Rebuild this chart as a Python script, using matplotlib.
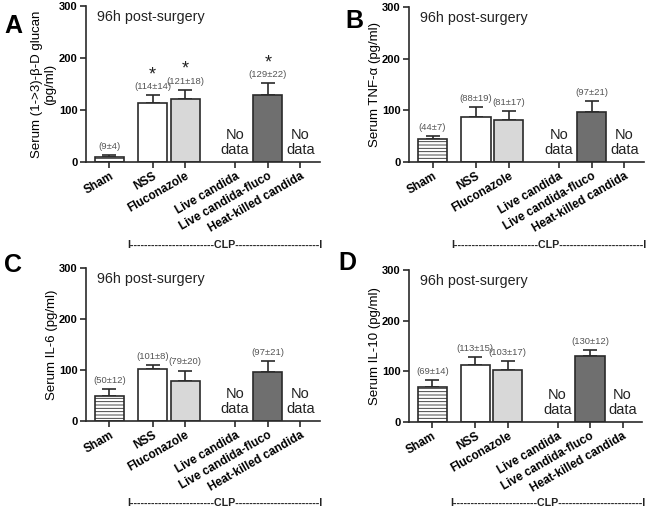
import matplotlib
matplotlib.use("Agg")
import matplotlib.pyplot as plt

plt.rcParams["font.family"] = ["Liberation Sans", "DejaVu Sans"]
plt.rcParams["hatch.linewidth"] = 0.6

# groups and data (mean, sem); None = no data
groups = ["Sham", "NSS", "Fluconazole", "Live candida", "Live candida-fluco", "Heat-killed candida"]
positions = [0, 1.32, 2.32, 3.85, 4.85, 5.85]

glucan_mean = [9, 114, 121, None, 129, None]
glucan_err = [4, 14, 18, None, 22, None]
glucan_star = [False, True, True, False, True, False]

tnf_mean = [44, 88, 81, None, 97, None]
tnf_err = [7, 19, 17, None, 21, None]

il6_mean = [50, 101, 79, None, 97, None]
il6_err = [12, 8, 20, None, 21, None]

il10_mean = [69, 113, 103, None, 130, None]
il10_err = [14, 15, 17, None, 12, None]

no_star = [False] * 6

face = ["white", "white", "#d8d8d8", None, "#6f6f6f", None]
hatch = ["-----", None, None, None, None, None]
edge = "#2a2a2a"

fig = plt.figure(figsize=(6.48, 5.11), dpi=100)

W, H = 648, 511


def make_ax(left, top, right, bottom):
    return fig.add_axes([left / W, 1 - bottom / H, (right - left) / W, (bottom - top) / H])


panels = [
    ("A", make_ax(86, 6, 320, 162), glucan_mean, glucan_err, glucan_star,
     "Serum (1->3)-\u03b2-D glucan\n(pg/ml)", -0.128, (4, 33)),
    ("B", make_ax(409, 7, 644, 162), tnf_mean, tnf_err, no_star,
     "Serum TNF-\u03b1 (pg/ml)", -0.118, (345, 28)),
    ("C", make_ax(86, 268, 320, 421), il6_mean, il6_err, no_star,
     "Serum IL-6 (pg/ml)", -0.118, (4, 272)),
    ("D", make_ax(409, 270, 642, 422), il10_mean, il10_err, no_star,
     "Serum IL-10 (pg/ml)", -0.12, (338, 270)),
]

for letter, ax, means, errs, stars, ylab, lx, lpos in panels:
    for i, (x, m, e) in enumerate(zip(positions, means, errs)):
        if m is None:
            ax.text(x, 38, "No\ndata", ha="center", va="center", fontsize=10.5,
                    linespacing=1.05, color="#222222")
            continue
        ax.bar(x, m, width=0.9, color=face[i], edgecolor=edge, linewidth=1.2,
               hatch=hatch[i], zorder=2)
        ax.errorbar(x, m, yerr=[[0], [e]], fmt="none", ecolor=edge,
                    elinewidth=1.2, capsize=5, capthick=1.2, zorder=1)
        top = m + e
        ax.text(x, top + 8, "(%d\u00b1%d)" % (m, e), ha="center", va="bottom",
                fontsize=6.8, color="#555555")
        if stars[i]:
            ax.text(x, top + 23, "*", ha="center", va="bottom", fontsize=13,
                    color="#222222")

    ax.set_xlim(-0.72, 6.45)
    ax.set_ylim(0, 300)
    ax.set_yticks([0, 100, 200, 300])
    ax.set_xticks(positions)
    ax.set_xticklabels(groups, rotation=30, ha="right", rotation_mode="anchor",
                       fontsize=8.5, fontweight="bold")
    for t in ax.get_yticklabels():
        t.set_fontweight("bold")
        t.set_fontsize(8)
    for s in ["top", "right"]:
        ax.spines[s].set_visible(False)
    for s in ["left", "bottom"]:
        ax.spines[s].set_linewidth(1.2)
        ax.spines[s].set_color(edge)
    ax.tick_params(direction="out", length=4, width=1.2, color=edge, pad=2)

    ax.set_ylabel(ylab, fontsize=9.5, linespacing=1.1)
    ax.yaxis.set_label_coords(lx, 0.5)

    ax.text(0.047, 0.93, "96h post-surgery", transform=ax.transAxes,
            fontsize=10.3, ha="left", va="center", color="#222222")

    ax.text(0.595, -0.535, "I" + "-" * 24 + "CLP" + "-" * 24 + "I",
            transform=ax.transAxes, ha="center", va="center",
            fontsize=7.7, fontweight="bold", color="#222222")

    fig.text(lpos[0] / W, 1 - lpos[1] / H, letter, fontsize=18,
             fontweight="bold", ha="left", va="baseline")

fig.savefig("out.png", dpi=100)
